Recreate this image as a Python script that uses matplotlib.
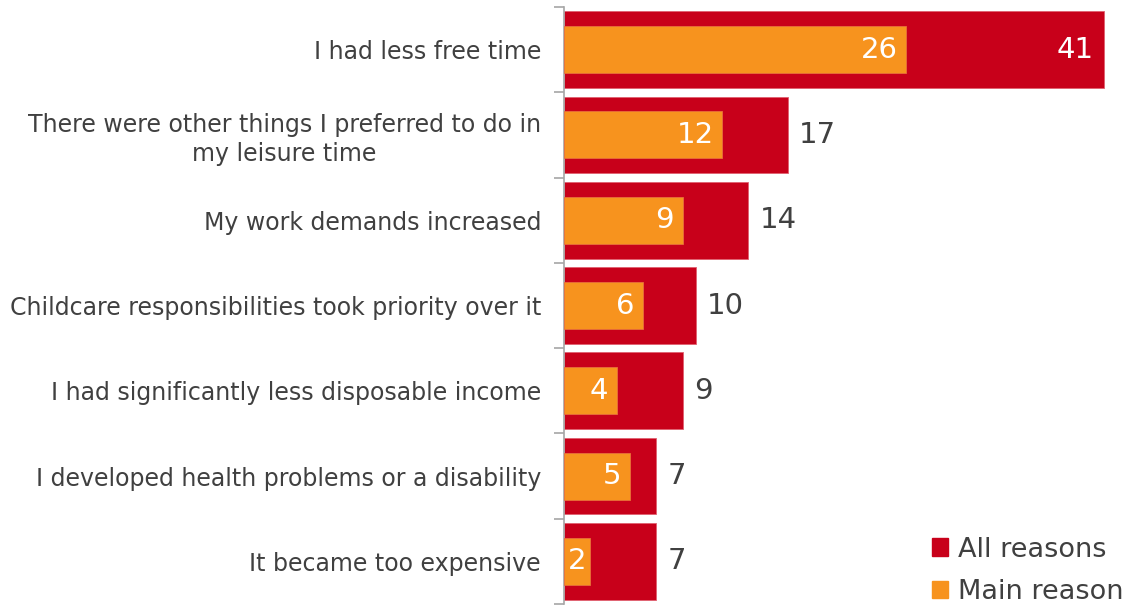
import matplotlib
matplotlib.use("Agg")
import matplotlib.pyplot as plt
from matplotlib.patches import Patch

categories = [
    "I had less free time",
    "There were other things I preferred to do in\nmy leisure time",
    "My work demands increased",
    "Childcare responsibilities took priority over it",
    "I had significantly less disposable income",
    "I developed health problems or a disability",
    "It became too expensive",
]
all_reasons = [41, 17, 14, 10, 9, 7, 7]
main_reason = [26, 12, 9, 6, 4, 5, 2]

RED = "#C8001A"
ORANGE = "#F7931E"
TEXT = "#404040"
AXIS = "#A6A6A6"

fig = plt.figure(figsize=(11.28, 6.07), dpi=100)
ax = fig.add_axes([564 / 1128, 1 - 604 / 607, 1 - 564 / 1128, 597 / 607])

n = len(categories)
ypos = list(range(n))
ax.barh(ypos, all_reasons, height=0.9, color=RED, edgecolor="#E06070", linewidth=0.6, zorder=2)
ax.barh(ypos, main_reason, height=0.55, color=ORANGE, edgecolor="#E8703A", linewidth=0.6, zorder=3)

ax.set_xlim(0, 564 / (540 / 41))
ax.set_ylim(n - 0.5, -0.5)

# value labels
for y, a, m in zip(ypos, all_reasons, main_reason):
    if a > 35:
        ax.text(a - 0.8, y, str(a), ha="right", va="center", fontsize=21, color="white", zorder=4)
    else:
        ax.text(a + 0.85, y, str(a), ha="left", va="center", fontsize=21, color=TEXT, zorder=4)
    if m >= 4:
        ax.text(m - 0.65, y, str(m), ha="right", va="center", fontsize=21, color="white", zorder=4)
    else:
        ax.text(m / 2, y, str(m), ha="center", va="center", fontsize=21, color="white", zorder=4)

# category labels
ax.set_yticks(ypos)
ax.set_yticklabels(categories, fontsize=17, color=TEXT, multialignment="center",
                   linespacing=1.25)
ax.tick_params(axis="y", length=0, pad=16.5)
# boundary tick marks
ax.set_yticks([i - 0.5 for i in range(n + 1)], minor=True)
ax.tick_params(axis="y", which="minor", length=7, color=AXIS, width=1.2, direction="out")
ax.set_xticks([])

for s in ["top", "right", "bottom"]:
    ax.spines[s].set_visible(False)
ax.spines["left"].set_color(AXIS)
ax.spines["left"].set_linewidth(1.2)

handles = [Patch(color=RED, label="All reasons"), Patch(color=ORANGE, label="Main reason")]
leg = fig.legend(handles=handles, loc="lower right", bbox_to_anchor=(1.01, -0.024),
                 frameon=False, fontsize=19.5, handlelength=0.6, handleheight=0.6,
                 handletextpad=0.35, labelspacing=0.62, labelcolor=TEXT, borderaxespad=0.2)

fig.savefig("out.png", dpi=100, facecolor="white")
